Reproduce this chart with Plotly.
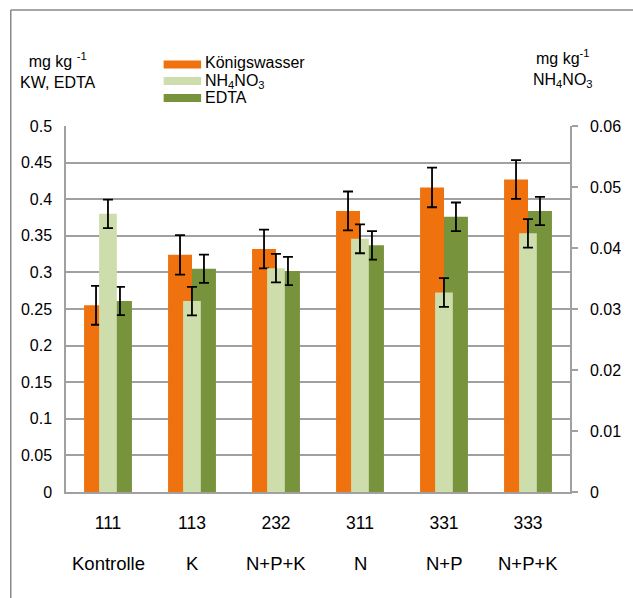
import plotly.graph_objects as go

codes = ["111", "113", "232", "311", "331", "333"]
treatments = ["Kontrolle", "K", "N+P+K", "N", "N+P", "N+P+K"]

kw_values = [0.255, 0.324, 0.332, 0.384, 0.416, 0.427]
kw_err = [0.0265, 0.027, 0.0265, 0.0265, 0.027, 0.0265]

edta_values = [0.261, 0.305, 0.302, 0.337, 0.376, 0.384]
edta_err = [0.0193, 0.0193, 0.0193, 0.0195, 0.0195, 0.0193]

nh4_values = [0.0456, 0.0313, 0.0367, 0.0415, 0.0327, 0.0424]
nh4_err = [0.00234, 0.00234, 0.00234, 0.00236, 0.00235, 0.00233]

series_names = ["Königswasser", "NH<sub>4</sub>NO<sub>3</sub>", "EDTA"]
colors = ["#EF720E", "#CEDDAC", "#77933C"]

xpos = list(range(len(codes)))
FONT = "Liberation Sans, Arial, sans-serif"
GRID = "#A0A0A0"
FS = 16

err_style = dict(type="data", visible=True, color="black", thickness=1.8, width=5)

fig = go.Figure()
fig.add_trace(go.Bar(
    x=xpos, y=kw_values, name=series_names[0], marker_color=colors[0],
    offset=-0.285, width=0.285, marker_line_width=0,
    error_y=dict(array=kw_err, **err_style), showlegend=False))
fig.add_trace(go.Bar(
    x=xpos, y=edta_values, name=series_names[2], marker_color=colors[2],
    offset=0.0, width=0.285, marker_line_width=0,
    error_y=dict(array=edta_err, **err_style), showlegend=False))
fig.add_trace(go.Bar(
    x=xpos, y=nh4_values, name=series_names[1], marker_color=colors[1],
    offset=-0.106, width=0.211, marker_line_width=0, yaxis="y2",
    error_y=dict(array=nh4_err, **err_style), showlegend=False))

fig.update_layout(
    width=633, height=598,
    margin=dict(l=66, r=56, t=126, b=106),
    paper_bgcolor="white", plot_bgcolor="white",
    barmode="overlay",
    font=dict(family=FONT, size=FS, color="black"),
    xaxis=dict(
        range=[-0.5, 5.5], tickmode="array", tickvals=xpos, ticktext=codes,
        showgrid=False, showline=True, linecolor=GRID, linewidth=1.5,
        ticks="", ticklabelstandoff=14, tickfont=dict(size=17.5),
        zeroline=False, fixedrange=True),
    yaxis=dict(
        range=[0, 0.5], dtick=0.05, showgrid=True,
        gridcolor=GRID, gridwidth=1.5, showline=True, linecolor=GRID,
        linewidth=1.5, ticks="", ticklabelstandoff=9, zeroline=False,
        tickfont=dict(size=FS)),
    yaxis2=dict(
        range=[0, 0.06], dtick=0.01, overlaying="y", side="right",
        showgrid=False, showline=True, linecolor=GRID, linewidth=1.5,
        ticks="outside", ticklen=6, tickcolor=GRID, tickwidth=1.5,
        ticklabelstandoff=9, zeroline=False, tickfont=dict(size=FS)),
)

annotations = []
# second row of category labels
for xi, t in zip(xpos, treatments):
    annotations.append(dict(x=xi, y=(492 - 563) / 366, xref="x", yref="paper", text=t,
                            showarrow=False, font=dict(size=18.5), xanchor="center",
                            yanchor="middle"))
# axis titles
annotations.append(dict(x=(58 - 66) / 511, y=(492 - 70) / 366, xref="paper", yref="paper",
                        text="mg kg <sup>-1</sup><br>KW, EDTA", showarrow=False,
                        align="center", font=dict(size=FS), xanchor="center",
                        yanchor="middle"))
annotations.append(dict(x=(570 - 66) / 511, y=(492 - 69) / 366, xref="paper", yref="paper",
                        text="mg kg<sup>-1</sup><br>NH<sub>4</sub>NO<sub>3</sub>",
                        showarrow=False, align="center", font=dict(size=FS),
                        xanchor="center", yanchor="middle"))

# manual legend
legend_rows_px = [64.5, 81, 98]
text_rows_px = [63, 81, 98]
shapes = []
for name, col, ypx, typx in zip(series_names, colors, legend_rows_px, text_rows_px):
    yp = (492 - ypx) / 366
    hp = 4 / 366
    shapes.append(dict(type="rect", xref="paper", yref="paper",
                       x0=(165 - 66) / 511, x1=(203 - 66) / 511,
                       y0=yp - hp, y1=yp + hp, fillcolor=col, line_width=0))
    annotations.append(dict(x=(205 - 66) / 511, y=(492 - typx) / 366, xref="paper", yref="paper",
                            text=name, showarrow=False, xanchor="left",
                            yanchor="middle", font=dict(size=FS)))

# outer frame (top and left edges)
shapes.append(dict(type="line", xref="paper", yref="paper",
                   x0=(10 - 66) / 511, x1=1.2, y0=(492 - 10) / 366, y1=(492 - 10) / 366,
                   line=dict(color="#888888", width=1.5)))
shapes.append(dict(type="line", xref="paper", yref="paper",
                   x0=(10 - 66) / 511, x1=(10 - 66) / 511, y0=(492 - 10) / 366, y1=-0.4,
                   line=dict(color="#888888", width=1.5)))

fig.update_layout(annotations=annotations, shapes=shapes)

fig.write_html("out.html", config={"displayModeBar": False},
               post_script="document.body.style.margin='0px';document.body.style.overflow='hidden';")
